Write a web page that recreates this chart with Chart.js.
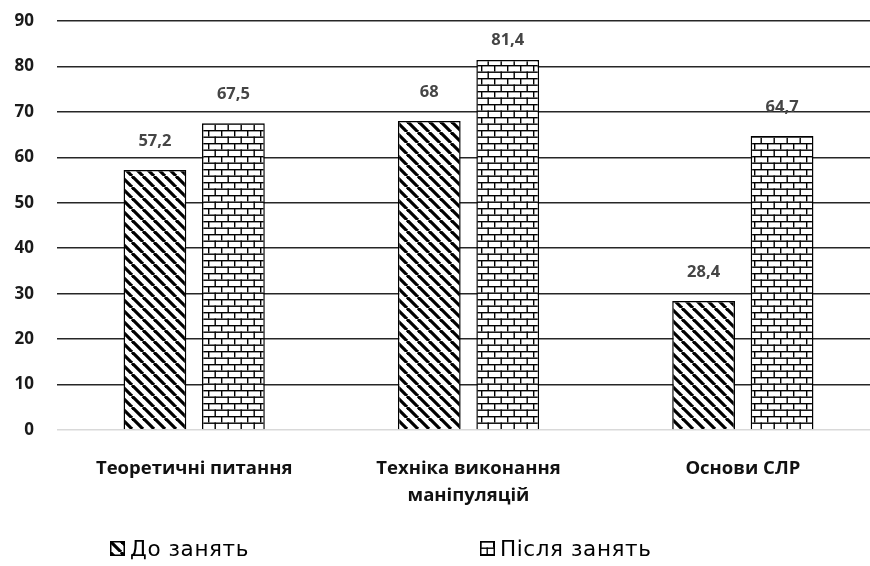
<!DOCTYPE html>
<html>
<head>
<meta charset="utf-8">
<script src="https://cdn.jsdelivr.net/npm/chart.js@4"></script>
<style>
html,body{margin:0;padding:0;background:#fff;overflow:hidden;width:870px;height:566px;}
#c{position:absolute;left:0;top:0;width:890px;height:566px;}
#legend{position:absolute;top:533px;left:0;width:870px;height:30px;font-family:"DejaVu Sans",sans-serif;font-size:21.5px;letter-spacing:0.6px;color:#000;}
.li{position:absolute;top:0;display:flex;align-items:center;height:30px;}
.li canvas{width:15px;height:15px;margin-right:5px;display:block;}
</style>
</head>
<body>
<canvas id="c" width="890" height="566"></canvas>
<div id="legend"></div>
<script>
const categories = [["Теоретичні питання"], ["Техніка виконання", "маніпуляцій"], ["Основи СЛР"]];
const seriesNames = ["До занять", "Після занять"];
const beforeValues = [57.2, 68, 28.4];
const afterValues = [67.5, 81.4, 64.7];
const yTicks = [0, 10, 20, 30, 40, 50, 60, 70, 80, 90];

function stripePattern(){
  const s = 11;
  const cv = document.createElement('canvas'); cv.width = s; cv.height = s;
  const g = cv.getContext('2d');
  g.fillStyle = '#fff'; g.fillRect(0,0,s,s);
  g.strokeStyle = '#000'; g.lineWidth = 3.2;
  for (let k=-1;k<=1;k++){
    g.beginPath(); g.moveTo(k*s, 0); g.lineTo(k*s + s, s); g.stroke();
  }
  return g.createPattern(cv,'repeat');
}
function brickPattern(){
  const w = 26, H = 13;
  const cv = document.createElement('canvas'); cv.width = w; cv.height = H;
  const g = cv.getContext('2d');
  g.fillStyle = '#fff'; g.fillRect(0,0,w,H);
  g.fillStyle = '#000';
  const rh = H/2;
  g.fillRect(0,0,w,1.4);
  g.fillRect(0,rh,w,1.4);
  g.fillRect(0,0,1.4,rh);
  g.fillRect(w/2,0,1.4,rh);
  g.fillRect(w/4,rh,1.4,rh);
  g.fillRect(3*w/4,rh,1.4,rh);
  return g.createPattern(cv,'repeat');
}
const pStripe = stripePattern();
const pBrick = brickPattern();

const labelPlugin = {
  id:'vals',
  afterDatasetsDraw(chart){
    const ctx = chart.ctx;
    ctx.save();
    ctx.font = 'bold 16.5px "Open Sans", sans-serif';
    ctx.fillStyle = '#454545';
    ctx.textAlign = 'center';
    ctx.textBaseline = 'middle';
    chart.data.datasets.forEach((ds,i)=>{
      chart.getDatasetMeta(i).data.forEach((bar,j)=>{
        const y = Math.max(bar.y - 29, 40);
        ctx.fillText(String(ds.data[j]).replace('.',','), bar.x, y);
      });
    });
    ctx.restore();
  }
};

const chart = new Chart(document.getElementById('c'), {
  type:'bar',
  data:{
    labels: categories,
    datasets:[
      {label:seriesNames[0], data:beforeValues, backgroundColor:pStripe, borderColor:'#000', borderWidth:1.5},
      {label:seriesNames[1], data:afterValues, backgroundColor:pBrick, borderColor:'#000', borderWidth:1.5}
    ]
  },
  options:{
    responsive:false, animation:false,
    devicePixelRatio:1,
    layout:{padding:{top:21,right:10,bottom:0,left:0}},
    plugins:{legend:{display:false}, tooltip:{enabled:false}},
    datasets:{bar:{categoryPercentage:0.572, barPercentage:0.8}},
    scales:{
      x:{
        grid:{display:false, drawTicks:false},
        border:{display:false},
        ticks:{padding:25, color:'#111', font:{family:'"Open Sans", sans-serif', size:18.5, weight:'bold', lineHeight:1.45}, maxRotation:0, autoSkip:false},
        afterFit(s){ s.height = 136; }
      },
      y:{
        min:0, max:90,
        afterBuildTicks(s){ s.ticks = yTicks.map(v=>({value:v})); },
        grid:{color:(c)=> c.tick.value===0 ? '#d9d9d9' : '#262626', lineWidth:1.6, drawTicks:false},
        border:{display:false},
        ticks:{padding:23, color:'#1a1a1a', font:{family:'"Open Sans", sans-serif', size:17, weight:'bold'}},
        afterFit(s){ s.width = 57; s.paddingTop = 0; s.paddingBottom = 0; }
      }
    }
  },
  plugins:[labelPlugin]
});

(function(){
  const leg = document.getElementById('legend');
  const pos = [110, 480];
  const pats = [pStripe, pBrick];
  seriesNames.forEach((n,i)=>{
    const d = document.createElement('div'); d.className='li'; d.style.left = pos[i]+'px';
    const ic = document.createElement('canvas'); ic.width=15; ic.height=15;
    const g = ic.getContext('2d');
    g.fillStyle = pats[i]; g.fillRect(0,0,15,15);
    g.strokeStyle='#000'; g.lineWidth=1.5; g.strokeRect(0.75,0.75,13.5,13.5);
    d.appendChild(ic);
    const t = document.createElement('span'); t.textContent = n; d.appendChild(t);
    leg.appendChild(d);
  });
})();
</script>
</body>
</html>
